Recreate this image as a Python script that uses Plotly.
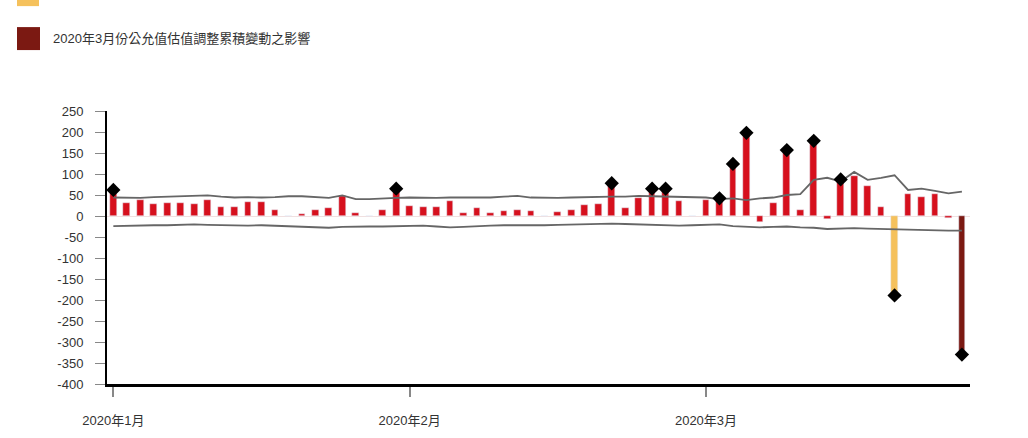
import plotly.graph_objects as go

# daily trading P&L (HK$ million) - one value per trading day, Jan-Mar 2020
pnl = [62, 32, 37, 28, 30, 32, 28, 39, 21, 22, 34, 34, 15, 1, 5, 15, 18, 47, 7, 1, 14, 65,
       25, 21, 21, 36, 6, 19, 6, 13, 15, 13, 1, 10, 15, 26, 28, 78, 20, 43, 65, 65, 36, 1,
       37, 42, 124, 198, -14, 30, 157, 14, 179, -8, 87, 96, 72, 21, None, 53, 46, 52, -4, None]

# VaR bands
var_upper = [44, 44, 43, 45, 46, 46, 47, 49, 46, 44, 45, 44, 45, 47, 47, 45, 43, 49, 40, 40, 42, 43,
             44, 43, 43, 44, 44, 45, 44, 46, 48, 44, 43, 43, 44, 45, 45, 46, 46, 48, 47, 46, 45, 44,
             44, 40, 42, 38, 42, 44, 50, 52, 86, 91, 82, 105, 86, 91, 97, 62, 65, 60, 54, 58]
var_lower = [-24, -23, -22, -22, -22, -21, -20, -21, -22, -23, -23, -22, -23, -24, -25, -26, -28, -26, -25, -25, -25, -24,
             -23, -23, -25, -27, -26, -24, -23, -22, -22, -23, -22, -21, -20, -19, -18, -18, -19, -20, -21, -22, -23, -22,
             -21, -20, -24, -26, -27, -26, -25, -27, -28, -31, -30, -29, -30, -31, -32, -33, -33, -34, -35, -35]

# special items
cva_day, cva_val = [58], [-189]
fva_day, fva_val = [63], [-330]

month_pos = [0, 22, 44]
month_labels = ['2020年1月', '2020年2月', '2020年3月']
y_ticks = list(range(250, -401, -50))

days = list(range(len(var_upper)))

# exception points (outside VaR band) + the two adjustments
exc_x, exc_y = [], []
for d in days:
    v = pnl[d]
    if v is not None and (v > var_upper[d] or v < var_lower[d]):
        exc_x.append(d)
        exc_y.append(v)
exc_x += cva_day + fva_day
exc_y += cva_val + fva_val

fig = go.Figure()
fig.add_trace(go.Bar(x=days, y=pnl, marker_color='#d6101d', width=0.5, showlegend=False))
fig.add_trace(go.Bar(x=cva_day, y=cva_val, marker_color='#f5c15c', width=0.5, showlegend=False))
fig.add_trace(go.Bar(x=fva_day, y=fva_val, marker_color='#7b1912', width=0.5, showlegend=False))
fig.add_trace(go.Scatter(x=days, y=var_upper, mode='lines', line=dict(color='#666666', width=1.8),
                         showlegend=False))
fig.add_trace(go.Scatter(x=days, y=var_lower, mode='lines', line=dict(color='#666666', width=1.8),
                         showlegend=False))
fig.add_trace(go.Scatter(x=exc_x, y=exc_y, mode='markers',
                         marker=dict(symbol='diamond', size=11, color='black'), showlegend=False))

# plot area in page pixels
W, H = 1028, 438
L, R, T, B = 107, 970, 111, 384.3


def px(x):
    return (x - L) / (R - L)


def py(y):
    return (B - y) / (B - T)


shapes = [
    dict(type='rect', xref='paper', yref='paper', x0=px(17), x1=px(39), y0=py(-16), y1=py(6),
         fillcolor='#f5c15c', line_width=0, layer='above'),
    dict(type='rect', xref='paper', yref='paper', x0=px(17), x1=px(40), y0=py(50), y1=py(27),
         fillcolor='#7b1912', line_width=0, layer='above'),
]

fig.update_layout(
    width=W, height=H,
    margin=dict(l=L, r=W - R, t=T, b=H - B),
    plot_bgcolor='white', paper_bgcolor='white',
    font=dict(family='Liberation Sans, Noto Sans CJK TC, sans-serif', size=13, color='#333333'),
    bargap=0, barmode='overlay',
    shapes=shapes,
    annotations=[dict(xref='paper', yref='paper', x=px(51), y=py(38), xanchor='left', yanchor='middle',
                      text='2020年3月份公允值估值調整累積變動之影響', showarrow=False,
                      font=dict(size=13, color='#333333'))],
)
fig.update_xaxes(range=[-0.47, 63.6], tickvals=month_pos, ticktext=month_labels, automargin=False,
                 showgrid=False, zeroline=False, showline=True, linecolor='black', linewidth=2.5,
                 ticks='outside', ticklen=10, tickcolor='#888888', tickwidth=1.5, ticklabelstandoff=13)
fig.update_yaxes(range=[-400, 250], tickvals=y_ticks, ticktext=[str(v) for v in y_ticks], automargin=False,
                 showgrid=False, zeroline=True, zerolinecolor='#f0e0e0', zerolinewidth=1,
                 showline=True, linecolor='black', linewidth=2,
                 ticks='outside', ticklen=10, tickcolor='#888888', tickwidth=1, ticklabelstandoff=9)

# drop the default page margin so the figure fills the window
fig.write_html("out.html", config={'displayModeBar': False},
               post_script="document.body.style.margin = '0';")
